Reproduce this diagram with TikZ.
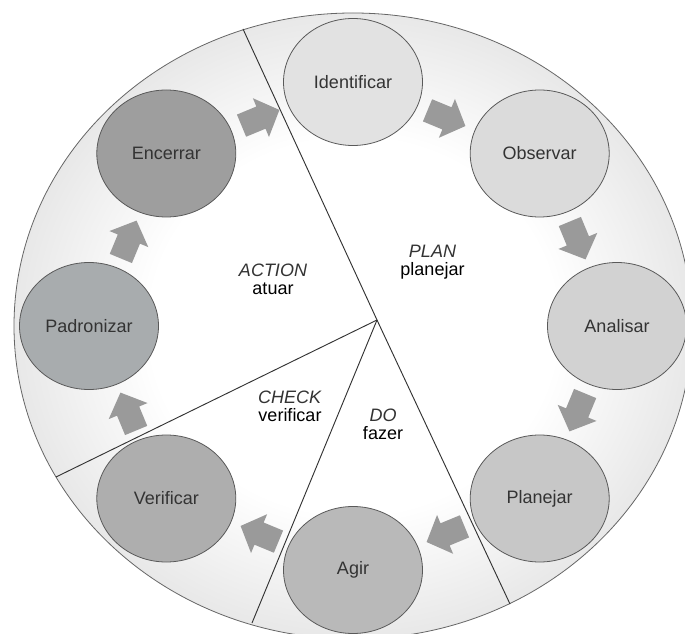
\documentclass[tikz,border=0pt]{standalone}
\usepackage{fontspec}
\setmainfont{Liberation Sans}
\usetikzlibrary{shapes.geometric}
\pgfdeclareradialshading{ringshade}{\pgfpoint{0bp}{0bp}}{color(0bp)=(white); color(15bp)=(white); color(25bp)=(black!9); color(50bp)=(black!9)}
\definecolor{cIdent}{HTML}{E2E2E2}
\definecolor{cObs}{HTML}{DBDBDB}
\definecolor{cAnal}{HTML}{D2D2D2}
\definecolor{cPlan}{HTML}{C7C7C7}
\definecolor{cAgir}{HTML}{B9B9B9}
\definecolor{cVer}{HTML}{AEAEAE}
\definecolor{cPad}{HTML}{A8ACAE}
\definecolor{cEnc}{HTML}{9E9E9E}
\definecolor{arrowgray}{HTML}{9A9A9A}
\tikzset{
  stage/.style={ellipse, draw=black!65, line width=0.6pt, minimum width=104.25pt,
    minimum height=95.25pt, inner sep=0pt, text=black!80,
    font=\fontsize{13.5}{15}\selectfont},
  blockarrow/.style={fill=arrowgray},
  divider/.style={draw=black!80, line width=0.7pt},
  phase/.style={align=center, inner sep=0pt, font=\fontsize{13.5}{13.5}\selectfont, text=black},
}
\newcommand{\fatarrow}[3]{%
  \fill[blockarrow, shift={(#1,#2)}, rotate=#3]
    (-20,-12) -- (1,-12) -- (1,-21) -- (21,0) -- (1,21) -- (1,12) -- (-20,12) -- cycle;}
\begin{document}
\begin{tikzpicture}[x=0.75pt, y=-0.75pt]
\useasboundingbox (0,0) rectangle (685,634);
\clip (0,0) rectangle (685,634);
\fill[white] (0,0) rectangle (685,634);
% outer wheel
\node[ellipse, shading=ringshade, draw=black!60, line width=0.6pt,
  minimum width=508.5pt, minimum height=469.5pt, inner sep=0pt] (wheel) at (353,326) {};
% dividers
\coordinate (J) at (377,320);
\coordinate (Ptop) at (243,29);
\coordinate (Pbot) at (510,604);
\coordinate (Pleft) at (56,477);
\coordinate (Pdown) at (252,623);
\draw[divider] (Ptop) -- (J) -- (Pbot);
\draw[divider] (J) -- (Pleft);
\draw[divider] (J) -- (Pdown);
% arrows
\fatarrow{260}{118}{22.5}
\fatarrow{446}{118}{-22.5}
\fatarrow{577.5}{240}{-67.5}
\fatarrow{577.5}{412}{-112.5}
\fatarrow{446}{534}{-157.5}
\fatarrow{260}{534}{157.5}
\fatarrow{128.5}{412}{112.5}
\fatarrow{128.5}{240}{67.5}
% stages
\node[stage, fill=cIdent] (ident) at (353,82) {Identificar};
\node[stage, fill=cObs] (obs) at (539.7,153.5) {Observar};
\node[stage, fill=cAnal] (anal) at (617,326) {Analisar};
\node[stage, fill=cPlan] (plan) at (539.7,498.5) {Planejar};
\node[stage, fill=cAgir] (agir) at (353,570) {Agir};
\node[stage, fill=cVer] (ver) at (166.3,498.5) {Verificar};
\node[stage, fill=cPad] (pad) at (89,326) {Padronizar};
\node[stage, fill=cEnc] (enc) at (166.3,153.5) {Encerrar};
% phase labels
\node[phase] (lplan) at (432.5,262) {\textcolor{black!80}{\textit{PLAN}}\\planejar};
\node[phase] (lact) at (273,279.5) {\textcolor{black!80}{\textit{ACTION}}\\atuar};
\node[phase] (lcheck) at (290,406) {\textcolor{black!80}{\textit{CHECK}}\\verificar};
\node[phase] (ldo) at (383,424) {\textcolor{black!80}{\textit{DO}}\\fazer};
\end{tikzpicture}
\end{document}
